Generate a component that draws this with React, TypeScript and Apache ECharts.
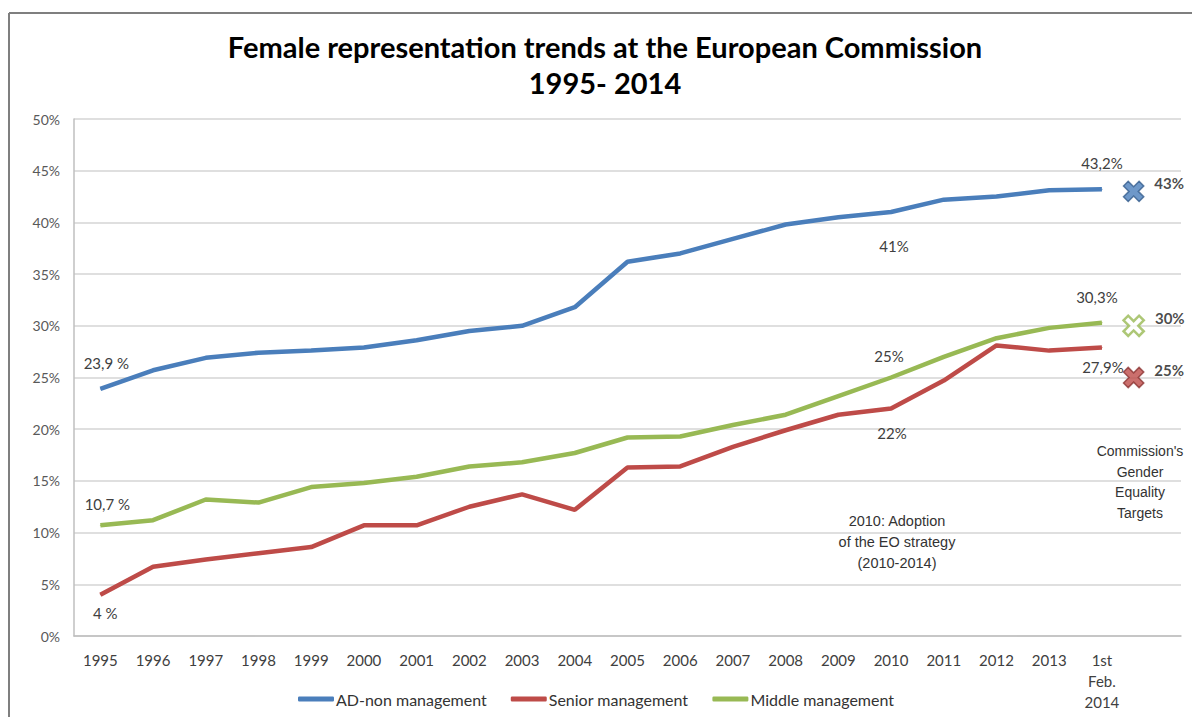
import React, { useEffect, useRef } from 'react';
import * as echarts from 'echarts';

const categories = [
  '1995', '1996', '1997', '1998', '1999', '2000', '2001', '2002', '2003', '2004',
  '2005', '2006', '2007', '2008', '2009', '2010', '2011', '2012', '2013', '1st\nFeb.\n2014', '',
];

const adNonManagement = [23.9, 25.7, 26.9, 27.4, 27.6, 27.9, 28.6, 29.5, 30.0, 31.8, 36.2, 37.0, 38.4, 39.8, 40.5, 41.0, 42.2, 42.5, 43.1, 43.2];
const seniorManagement = [4.0, 6.7, 7.4, 8.0, 8.6, 10.7, 10.7, 12.5, 13.7, 12.2, 16.3, 16.4, 18.3, 19.9, 21.4, 22.0, 24.7, 28.1, 27.6, 27.9];
const middleManagement = [10.7, 11.2, 13.2, 12.9, 14.4, 14.8, 15.4, 16.4, 16.8, 17.7, 19.2, 19.3, 20.4, 21.4, 23.2, 25.0, 27.0, 28.8, 29.8, 30.3];

const targetIndex = 20;
const targetAD = 43;
const targetMiddle = 30;
const targetSenior = 25;

const adLabels = [{ i: 0, text: '23,9 %' }, { i: 15, text: '41%' }, { i: 19, text: '43,2%' }];
const seniorLabels = [{ i: 0, text: '4 %' }, { i: 15, text: '22%' }, { i: 19, text: '27,9%' }];
const middleLabels = [{ i: 0, text: '10,7 %' }, { i: 15, text: '25%' }, { i: 19, text: '30,3%' }];

const seriesNames = ['AD-non management', 'Senior management', 'Middle management'];
const colors = ['#4A7EBB', '#BE4B48', '#98B954'];

// label offsets (style only)
const adOffsets: Record<number, number[]> = { 0: [6, -26], 15: [3, 34], 19: [0, -26] };
const seniorOffsets: Record<number, number[]> = { 0: [5, 18], 15: [1, 24], 19: [1, 19] };
const middleOffsets: Record<number, number[]> = { 0: [7, -21], 15: [-2, -22], 19: [-5, -26] };

const FONT = 'Lato, "Open Sans", sans-serif';
const ARIAL = '"Liberation Sans", Arial, sans-serif';

function buildData(values: number[], labels: { i: number; text: string }[], offsets: Record<number, number[]>) {
  return values.map((v, i) => {
    const lab = labels.find((l) => l.i === i);
    if (!lab) return v;
    return {
      value: v,
      label: {
        show: true,
        formatter: lab.text,
        position: 'inside',
        offset: offsets[i],
        color: '#404040',
        fontFamily: FONT,
        fontSize: 15,
      },
    };
  });
}

const CROSS = 'path://M3.5,0 H6.5 V3.5 H10 V6.5 H6.5 V10 H3.5 V6.5 H0 V3.5 H3.5 Z';

function targetSeries(value: number, fill: string, stroke: string, borderWidth: number, text: string) {
  return {
    type: 'scatter',
    data: [[targetIndex, value]],
    symbol: CROSS,
    symbolSize: 22,
    symbolRotate: 45,
    symbolOffset: [-21, 0],
    itemStyle: { color: fill, borderColor: stroke, borderWidth },
    label: {
      show: true,
      formatter: text,
      position: 'right',
      distance: 4,
      offset: [0, -8],
      color: '#1a1a1a',
      fontFamily: FONT,
      fontWeight: 'bold',
      fontSize: 15,
    },
    emphasis: { disabled: true },
    z: 5,
  };
}

export default function App() {
  const ref = useRef<HTMLDivElement>(null);
  useEffect(() => {
    const chart = echarts.init(ref.current!, null, { renderer: 'svg' });
    const lineSeries = (name: string, color: string, data: any[]) => ({
      name,
      type: 'line',
      data,
      symbol: 'circle',
      symbolSize: 1,
      showSymbol: true,
      lineStyle: { color, width: 4.5 },
      itemStyle: { color },
      emphasis: { disabled: true },
      z: 3,
    });
    chart.setOption({
      animation: false,
      backgroundColor: '#ffffff',
      grid: { left: 74, right: 11, top: 119, bottom: 81, containLabel: false },
      legend: {
        data: seriesNames.map((n, k) => ({ name: n, itemStyle: { color: colors[k] } })),
        left: 'center',
        top: 686,
        icon: 'roundRect',
        itemWidth: 36,
        itemHeight: 5,
        itemGap: 24,
        textStyle: { fontFamily: FONT, fontSize: 16, color: '#333333', padding: [0, 0, 0, -3] },
      },
      xAxis: {
        type: 'category',
        data: categories,
        boundaryGap: true,
        axisLine: { show: true, lineStyle: { color: '#bfbfbf', width: 1.5 } },
        axisTick: { show: false },
        axisLabel: {
          interval: 0,
          margin: 13,
          color: '#404040',
          fontFamily: FONT,
          fontSize: 15,
          lineHeight: 21,
        },
        splitLine: { show: false },
      },
      yAxis: {
        type: 'value',
        min: 0,
        max: 50,
        interval: 5,
        axisLine: { show: true, lineStyle: { color: '#bfbfbf', width: 1.5 } },
        axisTick: { show: false },
        axisLabel: {
          formatter: '{value}%',
          margin: 14,
          color: '#595959',
          fontFamily: FONT,
          fontSize: 14,
        },
        splitLine: { show: true, lineStyle: { color: '#d4d4d4', width: 1.5 } },
      },
      series: [
        lineSeries(seriesNames[0], colors[0], buildData(adNonManagement, adLabels, adOffsets)),
        lineSeries(seriesNames[1], colors[1], buildData(seniorManagement, seniorLabels, seniorOffsets)),
        lineSeries(seriesNames[2], colors[2], buildData(middleManagement, middleLabels, middleOffsets)),
        targetSeries(targetAD, '#4A7EBB', '#365E8D', 1.5, '43%'),
        targetSeries(targetMiddle, '#ffffff', '#98B954', 2.5, '30%'),
        targetSeries(targetSenior, '#BE4B48', '#8C3533', 1.5, '25%'),
      ],
      graphic: [
        { type: 'line', shape: { x1: 9, y1: 13, x2: 1192, y2: 13 }, style: { stroke: '#7f7f7f', lineWidth: 2 } },
        { type: 'line', shape: { x1: 9, y1: 13, x2: 9, y2: 717 }, style: { stroke: '#7f7f7f', lineWidth: 2 } },
        {
          type: 'text', x: 605, y: 46,
          style: {
            text: 'Female representation trends at the European Commission',
            textAlign: 'center', textVerticalAlign: 'middle',
            font: `bold 29px ${FONT}`, fill: '#000000',
          },
        },
        {
          type: 'text', x: 605, y: 82,
          style: {
            text: '1995- 2014',
            textAlign: 'center', textVerticalAlign: 'middle',
            font: `bold 29px ${FONT}`, fill: '#000000',
          },
        },
        {
          type: 'text', x: 897, y: 542,
          style: {
            text: '2010: Adoption\nof the EO strategy\n(2010-2014)',
            textAlign: 'center', textVerticalAlign: 'middle',
            font: `14.5px ${ARIAL}`, lineHeight: 21, fill: '#333333',
          },
        },
        {
          type: 'text', x: 1140, y: 482,
          style: {
            text: "Commission's\nGender\nEquality\nTargets",
            textAlign: 'center', textVerticalAlign: 'middle',
            font: `14px ${ARIAL}`, lineHeight: 20.5, fill: '#333333',
          },
        },
      ],
    });
    return () => chart.dispose();
  }, []);
  return <div ref={ref} style={{ position: 'absolute', left: 0, top: 0, width: 1192, height: 717 }} />;
}
